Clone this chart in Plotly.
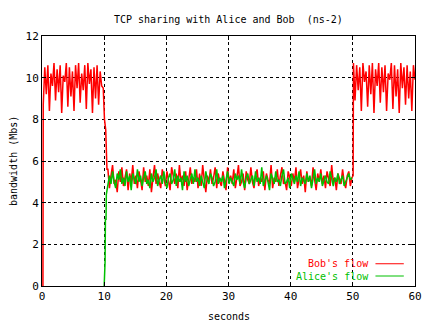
import numpy as np
import plotly.graph_objects as go

# ---------------- data ----------------
# Bob: start-up, phase 1 (alone, 0-10 s)
bob_start_t = [0.15]
bob_start_v = [0.0]
bob_p1 = [8.7, 10.5, 9.2, 10.6, 8.4, 10.2, 9.6, 10.7, 8.9, 10.4,
          9.3, 10.6, 8.3, 10.1, 9.8, 10.7, 8.6, 10.5, 9.1, 10.3,
          8.4, 10.6, 9.5, 10.7, 8.8, 10.2, 9.4, 10.6, 8.5, 10.7,
          9.7, 10.4, 8.3, 10.5, 9.0, 10.6, 8.7, 10.3, 9.6, 9.5]
# Bob: drop when Alice starts
bob_drop_t = [10.05, 10.25, 10.45]
bob_drop_v = [8.0, 7.5, 5.6]
# Bob: shared phase (10-50 s)
bob_mid = [5.6, 4.7, 5.3, 5.8, 4.9, 5.1, 4.5, 5.5, 5.0, 5.7,
           4.8, 5.2, 5.6, 4.6, 5.4, 5.0, 5.8, 4.9, 5.3, 4.7,
           5.5, 5.1, 4.6, 5.7, 5.0, 5.3, 4.8, 5.6, 4.5, 5.2,
           5.8, 4.9, 5.4, 5.0, 4.7, 5.6, 5.1, 4.8, 5.5, 5.0,
           4.6, 5.7, 5.2, 4.9, 5.4, 4.7, 5.8, 5.0, 5.3, 4.8,
           5.5, 4.6, 5.1, 5.7, 4.9, 5.2, 5.0, 5.6, 4.7, 5.4,
           4.8, 5.8, 5.1, 4.5, 5.3, 5.0, 5.6, 4.9, 5.2, 5.7,
           4.7, 5.4, 5.0, 4.8, 5.5, 5.1, 4.6, 5.7, 5.0, 5.3,
           4.9, 5.6, 4.7, 5.2, 5.8, 4.8, 5.0, 5.4, 4.6, 5.5,
           5.1, 4.9, 5.7, 5.0, 4.7, 5.3, 5.6, 4.8, 5.2, 5.0,
           5.5, 4.6, 5.4, 5.1, 4.9, 5.8, 4.7, 5.2, 5.0, 5.6,
           4.8, 5.3, 5.7, 4.9, 5.0, 4.6, 5.5, 5.2, 4.8, 5.4,
           5.0, 5.7, 4.7, 5.1, 5.6, 4.9, 5.3, 4.5, 5.5, 5.0,
           5.2, 4.8, 5.7, 5.1, 4.6, 5.4, 5.0, 5.6, 4.9, 5.3,
           4.7, 5.5, 5.1, 4.8, 5.8, 5.0, 5.2, 4.6, 5.4, 5.1,
           4.9, 5.6, 5.0, 4.7, 5.3, 5.5, 4.8, 5.2]
# Bob: rise when Alice stops
bob_rise_t = [50.05]
bob_rise_v = [5.3]
# Bob: alone again (50-60 s)
bob_p3 = [10.7, 8.9, 10.6, 9.4, 10.5, 8.4, 10.7, 9.8, 10.3, 8.6,
          10.6, 9.2, 10.7, 8.3, 10.4, 9.6, 10.7, 8.8, 10.5, 9.3,
          10.6, 8.4, 10.2, 9.9, 10.7, 8.5, 10.6, 9.1, 10.4, 8.3,
          10.7, 9.5, 10.5, 8.7, 10.6, 9.0, 10.3, 8.4, 10.6, 9.9]

# Alice: start-up steps
alice_start_t = [10.0, 10.03, 10.15, 10.2, 10.3, 10.35]
alice_start_v = [0.0, 1.2, 1.2, 3.2, 3.2, 4.4]
# Alice: shared phase (10-50 s)
alice_mid = [4.8, 5.3, 4.9, 5.5, 5.0, 4.7, 5.4, 5.1, 5.6, 4.9,
             5.2, 4.8, 5.5, 5.0, 5.3, 4.6, 5.4, 5.1, 4.9, 5.6,
             5.0, 5.3, 4.8, 5.2, 5.5, 4.9, 5.1, 4.7, 5.4, 5.0,
             5.2, 5.6, 4.8, 5.1, 5.3, 4.9, 5.5, 5.0, 4.7, 5.2,
             5.4, 4.9, 5.1, 5.6, 4.8, 5.3, 5.0, 5.2, 4.6, 5.5,
             5.0, 5.3, 4.8, 5.1, 5.4, 4.9, 5.6, 5.0, 5.2, 4.8,
             5.3, 5.0, 4.7, 5.5, 5.1, 4.9, 5.4, 5.2, 4.8, 5.0,
             5.6, 4.9, 5.2, 5.0, 5.3, 4.7, 5.1, 5.5, 4.9, 5.2,
             5.0, 4.8, 5.4, 5.1, 5.3, 4.9, 5.6, 5.0, 4.7, 5.2,
             5.4, 4.9, 5.1, 5.3, 4.8, 5.5, 5.0, 5.2, 4.9, 5.7,
             4.8, 5.1, 5.3, 5.0, 4.6, 5.4, 5.2, 4.9, 5.5, 5.0,
             5.1, 4.8, 5.3, 5.6, 4.9, 5.0, 5.2, 4.7, 5.4, 5.1,
             4.9, 5.3, 5.0, 5.5, 4.8, 5.2, 5.1, 4.9, 5.4, 5.0,
             5.3, 4.7, 5.1, 5.6, 4.9, 5.2, 5.0, 5.4, 4.8, 5.1,
             5.3, 5.0, 4.9, 5.5, 5.1, 4.8, 5.2, 5.0, 5.4, 4.9,
             5.1, 5.3, 4.8, 5.0, 5.2, 5.4, 5.1, 5.2]

x_ticks = [0, 10, 20, 30, 40, 50, 60]
y_ticks = [0, 2, 4, 6, 8, 10, 12]
title = "TCP sharing with Alice and Bob  (ns-2)"
x_title = "seconds"
y_title = "bandwidth (Mbs)"
legend_names = ["Bob's flow", "Alice's flow"]

# ---------------- time axes ----------------
t_p1 = np.linspace(0.2, 9.85, len(bob_p1))
t_mid_b = np.linspace(10.6, 49.85, len(bob_mid))
t_p3 = np.linspace(50.1, 60.0, len(bob_p3))
t_mid_a = np.linspace(10.6, 49.85, len(alice_mid))

bob_t = np.concatenate([bob_start_t, t_p1, bob_drop_t, t_mid_b, bob_rise_t, t_p3])
bob_v = np.concatenate([bob_start_v, bob_p1, bob_drop_v, bob_mid, bob_rise_v, bob_p3])
alice_t = np.concatenate([alice_start_t, t_mid_a])
alice_v = np.concatenate([alice_start_v, alice_mid])

RED = "#ff0000"
GREEN = "#00c000"
FONT = "DejaVu Sans Mono"

fig = go.Figure()
fig.add_trace(go.Scatter(x=bob_t, y=bob_v, mode="lines",
                         line=dict(color=RED, width=1.5), name=legend_names[0]))
fig.add_trace(go.Scatter(x=alice_t, y=alice_v, mode="lines",
                         line=dict(color=GREEN, width=1.5), name=legend_names[1]))

axis_common = dict(showline=True, linecolor="black", linewidth=1, mirror="ticks",
                   ticks="inside", ticklen=4, tickcolor="black",
                   showgrid=True, gridcolor="black", gridwidth=1, griddash="3px,3px",
                   zeroline=False, ticklabeloverflow="allow",
                   tickfont=dict(family=FONT, size=11, color="black"))

fig.update_xaxes(range=[0, 60], tickvals=x_ticks, **axis_common)
fig.update_yaxes(range=[0, 12], tickvals=y_ticks, **axis_common)

annotations = [
    dict(text=title, xref="paper", yref="paper", x=0.5, y=1, yshift=17,
         showarrow=False, xanchor="center", yanchor="middle",
         font=dict(family=FONT, size=10, color="black")),
    dict(text=x_title, xref="paper", yref="paper", x=0.5, y=0, yshift=-30,
         showarrow=False, xanchor="center", yanchor="middle",
         font=dict(family=FONT, size=10, color="black")),
    dict(text=y_title, xref="paper", yref="paper", x=0, y=0.5, xshift=-29,
         showarrow=False, xanchor="center", yanchor="middle", textangle=-90,
         font=dict(family=FONT, size=10, color="black")),
]
legend_y = [0.089, 0.040]
legend_colors = [RED, GREEN]
shapes = []
for name, yy, col in zip(legend_names, legend_y, legend_colors):
    annotations.append(dict(text=name, xref="paper", yref="paper", x=0.879, y=yy,
                            showarrow=False, xanchor="right", yanchor="middle",
                            borderpad=0,
                            font=dict(family=FONT, size=10, color=col)))
    shapes.append(dict(type="line", xref="paper", yref="paper", x0=0.894, x1=0.970,
                       y0=yy, y1=yy, line=dict(color=col, width=1)))

fig.update_layout(width=428, height=321,
                  margin=dict(l=42, r=6, t=36, b=35),
                  paper_bgcolor="white", plot_bgcolor="white",
                  showlegend=False, annotations=annotations, shapes=shapes)

fig.write_html("out.html")
